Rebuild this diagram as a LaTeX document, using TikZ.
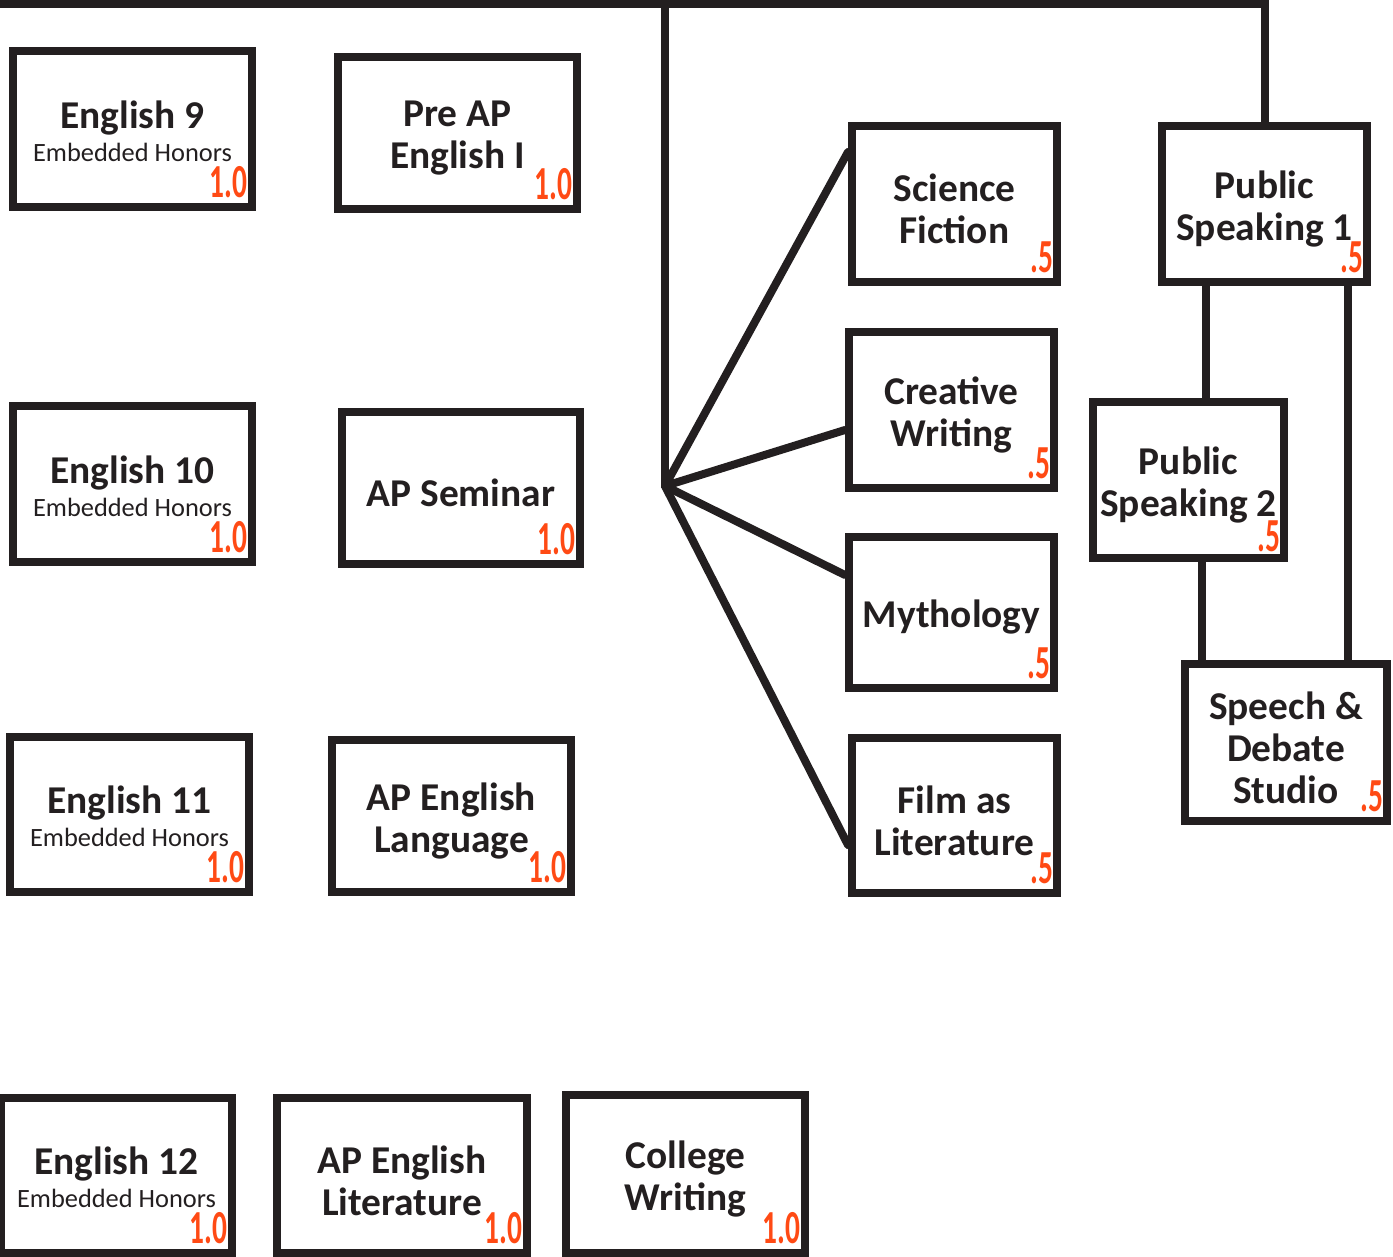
\documentclass[tikz,border=0pt]{standalone}
\usepackage{fontspec}
\setmainfont{Carlito}
\definecolor{ink}{HTML}{231F20}
\definecolor{creditred}{HTML}{FF4A14}
\newcommand{\subline}[1]{{\fontsize{13.2}{16}\selectfont\mdseries #1}}
\newcommand{\units}[1]{\scalebox{0.62}[1]{#1}}

\begin{document}
\begin{tikzpicture}[x=0.5pt,y=-0.5pt,
    course/.style={draw=ink,line width=4pt,rectangle,inner sep=0pt},
    px/.style 2 args={minimum width=#1*0.5pt,minimum height=#2*0.5pt},
    title/.style={align=center,inner sep=0pt,text=ink,yshift=-2.5pt,
      font=\bfseries\fontsize{19.7}{21}\selectfont},
    honors/.style={title,yshift=1.5pt},
    link/.style={draw=ink,line width=4pt},
    credit/.style={text=creditred,inner sep=0pt,anchor=south east,
      font=\bfseries\fontsize{23.7}{24}\selectfont}]
    \useasboundingbox (0,0) rectangle (1393,1257);

    % grade 9
    \node[course,px={239}{156}] (eng9) at (132.5,129) {};
    \node[course,px={239}{152}] (preap) at (457.5,133) {};
    \node[honors] (eng9t) at (eng9.center) {English 9\\[-4.5pt]\subline{Embedded Honors}};
    \node[title] (preapt) at (preap.center) {Pre AP\\English I};
    \node[credit] (eng9c) at ([shift={(-8,-13)}]eng9.south east) {\units{1.0}};
    \node[credit] (preapc) at ([shift={(-8,-13)}]preap.south east) {\units{1.0}};

    % grade 10
    \node[course,px={239}{156}] (eng10) at (132.5,484) {};
    \node[course,px={238}{152}] (apsem) at (461,488) {};
    \node[honors] (eng10t) at (eng10.center) {English 10\\[-4.5pt]\subline{Embedded Honors}};
    \node[title] (apsemt) at (apsem.center) {AP Seminar};
    \node[credit] (eng10c) at ([shift={(-8,-13)}]eng10.south east) {\units{1.0}};
    \node[credit] (apsemc) at ([shift={(-8,-13)}]apsem.south east) {\units{1.0}};

    % grade 11
    \node[course,px={239}{155}] (eng11) at (129.5,814.5) {};
    \node[course,px={239}{152}] (aplang) at (451.5,816) {};
    \node[honors] (eng11t) at (eng11.center) {English 11\\[-4.5pt]\subline{Embedded Honors}};
    \node[title] (aplangt) at (aplang.center) {AP English\\Language};
    \node[credit] (eng11c) at ([shift={(-8,-13)}]eng11.south east) {\units{1.0}};
    \node[credit] (aplangc) at ([shift={(-8,-13)}]aplang.south east) {\units{1.0}};

    % grade 12
    \node[course,px={231}{155}] (eng12) at (116.5,1175.5) {};
    \node[course,px={250}{155}] (aplit) at (402,1175.5) {};
    \node[course,px={239}{158}] (college) at (685.5,1174) {};
    \node[honors] (eng12t) at (eng12.center) {English 12\\[-4.5pt]\subline{Embedded Honors}};
    \node[title] (aplitt) at (aplit.center) {AP English\\Literature};
    \node[title] (colleget) at (college.center) {College\\Writing};
    \node[credit] (eng12c) at ([shift={(-8,-13)}]eng12.south east) {\units{1.0}};
    \node[credit] (aplitc) at ([shift={(-8,-13)}]aplit.south east) {\units{1.0}};
    \node[credit] (collegec) at ([shift={(-8,-13)}]college.south east) {\units{1.0}};

    % electives
    \node[course,px={205}{156}] (scifi) at (954.5,204) {};
    \node[course,px={205}{156}] (creative) at (951.5,410) {};
    \node[course,px={205}{151}] (myth) at (951.5,612.5) {};
    \node[course,px={205}{155}] (film) at (954.5,815.5) {};
    \node[title] (scifit) at (scifi.center) {Science\\Fiction};
    \node[title] (creativet) at (creative.center) {Creative\\Writing};
    \node[title] (mytht) at (myth.center) {Mythology};
    \node[title] (filmt) at (film.center) {Film as\\Literature};
    \node[credit] (scific) at ([shift={(-7,-13)}]scifi.south east) {\units{.5}};
    \node[credit] (creativec) at ([shift={(-7,-13)}]creative.south east) {\units{.5}};
    \node[credit] (mythc) at ([shift={(-7,-13)}]myth.south east) {\units{.5}};
    \node[credit] (filmc) at ([shift={(-7,-13)}]film.south east) {\units{.5}};

    % speech
    \node[course,px={205}{156}] (ps1) at (1264.5,204) {};
    \node[course,px={191}{156}] (ps2) at (1188.5,480) {};
    \node[course,px={202}{157}] (speech) at (1286,742.5) {};
    \node[title] (ps1t) at (ps1.center) {Public\\Speaking 1};
    \node[title] (ps2t) at (ps2.center) {Public\\Speaking 2};
    \node[title] (speecht) at (speech.center) {Speech \&\\Debate\\Studio};
    \node[credit] (ps1c) at ([shift={(-7,-13)}]ps1.south east) {\units{.5}};
    \node[credit] (ps2c) at ([shift={(-7,-10)}]ps2.south east) {\units{.5}};
    \node[credit] (speechc) at ([shift={(-7,-13)}]speech.south east) {\units{.5}};

    % top bar and trunk
    \coordinate (topleft) at (-10,4);
    \coordinate (topright) at (ps1.north |- topleft);
    \coordinate (trunk) at (665,4);
    \coordinate (hub) at (665,486);
    \draw[link] (topleft) -- (topright) -- (ps1.north);
    \draw[link] (trunk) -- (hub);

    % fan to electives
    \draw[link,line cap=round] (hub) -- ([yshift=26pt]scifi.west);
    \draw[link,line cap=round] (hub) -- ([yshift=-10pt]creative.west);
    \draw[link,line cap=round] (hub) -- ([yshift=18.75pt]myth.west);
    \draw[link,line cap=round] (hub) -- ([yshift=-14.75pt]film.west);

    % speech track
    \draw[link] ([xshift=-29.25pt]ps1.south) coordinate (psa) -- (ps2.north -| psa);
    \draw[link] ([xshift=41.75pt]ps1.south) coordinate (psb) -- (speech.north -| psb);
    \draw[link] ([xshift=6.75pt]ps2.south) coordinate (psc) -- (speech.north -| psc);
\end{tikzpicture}
\end{document}
